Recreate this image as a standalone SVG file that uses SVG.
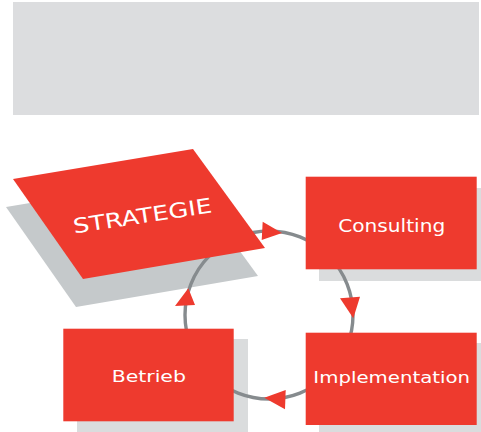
<svg xmlns="http://www.w3.org/2000/svg" width="481" height="432" viewBox="0 0 481 432">
<defs>
<style>
.red{fill:#ee3a2e}
.sh{fill:#dadcdd}
.lbl{fill:#ffffff;font-family:"DejaVu Sans",sans-serif;text-anchor:middle}
.arc{fill:none;stroke:#868b8e;stroke-width:3.4}
.ah{fill:#ee3a2e}
</style>
</defs>
<rect x="13" y="2" width="466" height="113" fill="#dcdddf"/>
<g id="shadows">
<polygon points="6,207 186,177 258,276 76,307" fill="#c5c9cb"/>
<rect class="sh" x="319" y="188" width="171" height="93"/>
<rect class="sh" x="319" y="343" width="171" height="93"/>
<rect class="sh" x="77" y="339" width="171" height="93"/>
</g>
<g id="connectors">
<circle class="arc" cx="269" cy="315" r="84"/>
<polygon class="ah" points="282,233 262.7,221.7 261.7,240"/>
<polygon class="ah" points="353.3,318.3 340,298.3 360,296.7"/>
<polygon class="ah" points="264.3,397.7 285.7,390 285,409.3"/>
<polygon class="ah" points="188.3,288.3 175,306 195,305"/>
</g>
<g id="strategie">
<polygon class="red" points="13,179 193,149 265,248 83,279"/>
<text class="lbl" x="142.5" y="223" font-size="20.5" textLength="140" lengthAdjust="spacingAndGlyphs" transform="rotate(-8.7 142.5 216)">STRATEGIE</text>
</g>
<g id="consulting">
<rect class="red" x="305.7" y="176.7" width="171" height="92.6"/>
<text class="lbl" x="391.7" y="231.7" font-size="17" textLength="107" lengthAdjust="spacingAndGlyphs">Consulting</text>
</g>
<g id="implementation">
<rect class="red" x="305.7" y="332.7" width="171" height="92.3"/>
<text class="lbl" x="391.7" y="382.7" font-size="15.5" textLength="156.7" lengthAdjust="spacingAndGlyphs">Implementation</text>
</g>
<g id="betrieb">
<rect class="red" x="63.3" y="328.7" width="170.4" height="92.6"/>
<text class="lbl" x="148.8" y="382.3" font-size="15.5" textLength="74.3" lengthAdjust="spacingAndGlyphs">Betrieb</text>
</g>
</svg>
